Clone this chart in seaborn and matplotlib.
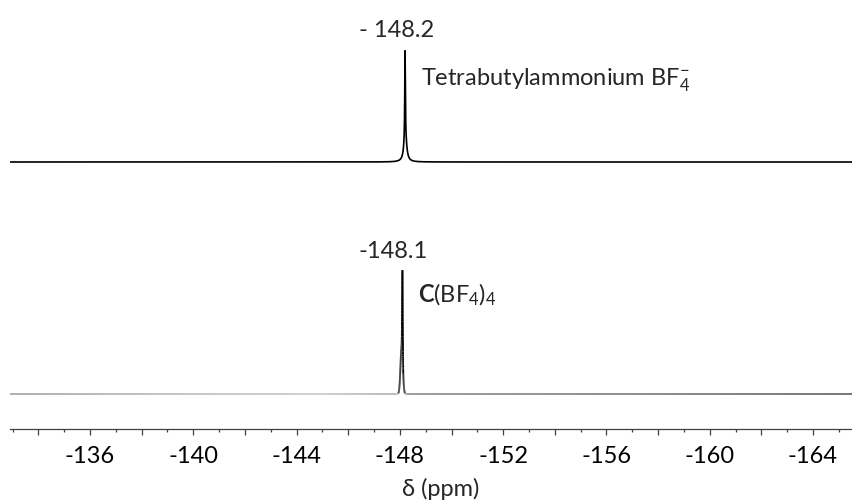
import numpy as np
import pandas as pd
import matplotlib
matplotlib.use("Agg")
import matplotlib.pyplot as plt
from matplotlib.collections import LineCollection
from matplotlib.ticker import MultipleLocator, FuncFormatter
import seaborn as sns

# 19F chemical shift window (ppm), drawn high-to-low as usual for NMR
shift_start = -132.9
shift_end = -165.55

# Tetrabutylammonium BF4- : sharp line with a broader Lorentzian foot
tba_centres = [-148.20, -148.21]
tba_heights = [0.76, 0.24]
tba_fwhm = [0.025, 0.12]
tba_peak_label = "- 148.2"
tba_name = r"Tetrabutylammonium BF$_4^{-}$"

# C(BF4)4 : sharp line with a small shoulder
cbf_centres = [-148.10, -148.07]
cbf_heights = [0.76, 0.43]
cbf_sigma = [0.012, 0.045]
cbf_peak_label = "-148.1"
cbf_name = r"$\mathbf{C}$(BF$_{4}$)$_{4}$"

tick_step_minor = 1
tick_step_major = 2
label_every = 4

sns.set_theme(style="white")
plt.rcParams["font.family"] = ["Lato", "DejaVu Sans"]
plt.rcParams["mathtext.fontset"] = "custom"
plt.rcParams["mathtext.rm"] = "Lato"
plt.rcParams["mathtext.bf"] = "Lato:bold"
plt.rcParams["mathtext.it"] = "Lato:italic"
plt.rcParams["axes.unicode_minus"] = False

FS = 17
W, H = 853, 503
fig = plt.figure(figsize=(W / 100, H / 100), dpi=100)
# axes in pixel-like vertical units above the shift axis
ax = fig.add_axes([10 / W, 74 / H, 843 / W, 429 / H])
ax.set_xlim(shift_start, shift_end)
ax.set_ylim(0, 429)

ppm = np.linspace(shift_start, shift_end, 40001)


def lorentz(x, c, h, w):
    return h / (1 + ((x - c) / (w / 2)) ** 2)


def gauss(x, c, h, s):
    return h * np.exp(-0.5 * ((x - c) / s) ** 2)


tba = sum(lorentz(ppm, c, h, w) for c, h, w in zip(tba_centres, tba_heights, tba_fwhm))
cbf = sum(gauss(ppm, c, h, s) for c, h, s in zip(cbf_centres, cbf_heights, cbf_sigma))

scale = 112.0
top_base = 267
bottom_base = 35

top_df = pd.DataFrame({"ppm": ppm, "y": top_base + scale * tba})
sns.lineplot(data=top_df, x="ppm", y="y", ax=ax, color="black", lw=1.2,
             estimator=None, sort=False)

# lower trace: grey baseline shading, black where the line rises
yb = bottom_base + scale * cbf
pts = np.column_stack([ppm, yb]).reshape(-1, 1, 2)
segs = np.concatenate([pts[:-1], pts[1:]], axis=1)
xm = 0.5 * (ppm[:-1] + ppm[1:])
ctrl_x = [-132.9, -140.0, -145.0, -147.9, -148.4, -157.0, -165.55]
ctrl_g = [0.66, 0.76, 0.80, 0.70, 0.58, 0.52, 0.42]
g = np.interp(-xm, [-c for c in ctrl_x], ctrl_g)
rise = 0.5 * (yb[:-1] + yb[1:]) - bottom_base
g = np.where(rise > 0.8, 0.0, g)
cols = np.column_stack([g, g, g, np.ones_like(g)])
ax.add_collection(LineCollection(segs, colors=cols, linewidths=1.3))

# peak annotations
top_peak = top_base + scale * tba.max()
bot_peak = bottom_base + scale * cbf.max()
ax.annotate(tba_peak_label, xy=(tba_centres[0], top_peak), xytext=(-8, 14),
            textcoords="offset pixels", ha="center", va="baseline", fontsize=FS)
ax.annotate(tba_name, xy=(tba_centres[0], top_peak), xytext=(16, -34),
            textcoords="offset pixels", ha="left", va="baseline", fontsize=FS)
ax.annotate(cbf_peak_label, xy=(cbf_centres[0], bot_peak), xytext=(-9, 12),
            textcoords="offset pixels", ha="center", va="baseline", fontsize=FS)
ax.annotate(cbf_name, xy=(cbf_centres[0], bot_peak), xytext=(16, -32),
            textcoords="offset pixels", ha="left", va="baseline", fontsize=FS)

# shift axis
for s in ["top", "left", "right"]:
    ax.spines[s].set_visible(False)
ax.spines["bottom"].set_color("#404040")
ax.spines["bottom"].set_linewidth(0.9)
ax.set_yticks([])
ax.set_ylabel("")
ax.set_xlabel("")
ax.xaxis.set_major_locator(MultipleLocator(tick_step_major))
ax.xaxis.set_minor_locator(MultipleLocator(tick_step_minor))
ax.xaxis.set_major_formatter(FuncFormatter(
    lambda v, p: f"{v:.0f}" if round(v) % label_every == 0 else ""))
ax.tick_params(axis="x", which="major", bottom=True, length=4.5, width=0.9,
               color="#404040", pad=8, labelsize=FS, labelcolor="black")
ax.tick_params(axis="x", which="minor", bottom=True, length=2.2, width=0.9,
               color="#404040")
fig.text(441 / W, 1 - 496 / H, "δ (ppm)", ha="center", va="baseline", fontsize=FS)

fig.savefig("out.png", dpi=100)
